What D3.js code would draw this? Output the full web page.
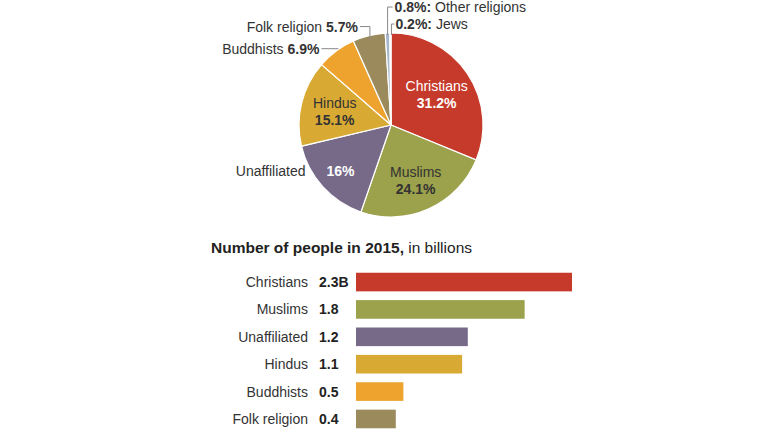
<!DOCTYPE html>
<html><head><meta charset="utf-8">
<script src="https://cdn.jsdelivr.net/npm/d3@7"></script>
<style>
html,body{margin:0;padding:0;background:#fff;}
svg{display:block;font-family:"Liberation Sans",Arial,sans-serif;}
</style></head>
<body><svg id="c" width="770" height="433"></svg>
<script>
// ---- data ----
const pieCategories = ["Christians","Muslims","Unaffiliated","Hindus","Buddhists","Folk religion","Other religions","Jews"];
const pieShares = [31.2, 24.1, 16, 15.1, 6.9, 5.7, 0.8, 0.2];
const pieLabels = ["31.2%","24.1%","16%","15.1%","6.9%","5.7%","0.8%","0.2%"];
const pieColors = ["#c63a2b","#9ca14b","#766a88","#d9aa33","#eea32f","#9b8b5c","#a8b8cc","#d3d9e2"];

const barCategories = ["Christians","Muslims","Unaffiliated","Hindus","Buddhists","Folk religion"];
const barValues = [2.28, 1.78, 1.18, 1.12, 0.5, 0.42];
const barLabels = ["2.3B","1.8","1.2","1.1","0.5","0.4"];
const barColors = ["#c63a2b","#9ca14b","#766a88","#d9aa33","#eea32f","#9b8b5c"];

const svg = d3.select("#c");
const textCol = "#333";
const fs = 14;

// ---- pie ----
const cx = 391, cy = 125, R = 92;
const pie = d3.pie().sort(null).value(d => d)(pieShares);
const arc = d3.arc().innerRadius(0).outerRadius(R);
const g = svg.append("g").attr("transform", `translate(${cx},${cy})`);
g.selectAll("path").data(pie).join("path")
  .attr("d", arc).attr("fill", (d,i) => pieColors[i])
  .attr("stroke", "#fff").attr("stroke-width", 1.2);

function at(d, r){ const a = (d.startAngle + d.endAngle)/2; return [Math.sin(a)*r, -Math.cos(a)*r]; }

// inside labels
const inside = [
  {i:0, r:55, col:"#fff", name:"Christians"},
  {i:1, r:60, col:"#333", name:"Muslims"},
  {i:3, r:58, col:"#333", name:"Hindus"}
];
inside.forEach(o => {
  const [x,y] = at(pie[o.i], o.r);
  const t = g.append("text").attr("text-anchor","middle").attr("fill",o.col).attr("font-size",fs);
  t.append("tspan").attr("x",x).attr("y",y-3).text(o.name);
  t.append("tspan").attr("x",x).attr("y",y+14).attr("font-weight","bold").text(pieLabels[o.i]);
});
// Unaffiliated
{
  const [x,y] = at(pie[2], 68);
  g.append("text").attr("x",x).attr("y",y+5).attr("text-anchor","middle").attr("fill","#fff")
    .attr("font-size",fs).attr("font-weight","bold").text(pieLabels[2]);
  g.append("text").attr("x",x-35).attr("y",y+5).attr("text-anchor","end").attr("fill",textCol)
    .attr("font-size",fs).text("Unaffiliated");
}
// outside labels with leaders
const lc = "#888";
{ // Buddhists
  const [x,y] = at(pie[4], R-2);
  const ly = y - 4;
  g.append("path").attr("d",`M${x-16},${ly}H${x+1}`).attr("stroke",lc).attr("fill","none");
  const t = g.append("text").attr("x",x-18).attr("y",ly+5).attr("text-anchor","end").attr("font-size",fs).attr("fill",textCol);
  t.append("tspan").text("Buddhists ");
  t.append("tspan").attr("font-weight","bold").text(pieLabels[4]);
}
{ // Folk religion
  const [x,y] = at(pie[5], R-4);
  const ly = y - 13;
  g.append("path").attr("d",`M${x-10},${ly}H${x}V${y}`).attr("stroke",lc).attr("fill","none");
  const t = g.append("text").attr("x",x-12).attr("y",ly+5).attr("text-anchor","end").attr("font-size",fs).attr("fill",textCol);
  t.append("tspan").text("Folk religion ");
  t.append("tspan").attr("font-weight","bold").text(pieLabels[5]);
}
{ // Other religions
  const [x,y] = at(pie[6], R-2);
  const ly = -118;
  g.append("path").attr("d",`M${x+5},${ly}H${x}V${y}`).attr("stroke",lc).attr("fill","none");
  const t = g.append("text").attr("x",x+7).attr("y",ly+5).attr("font-size",fs).attr("fill",textCol);
  t.append("tspan").attr("font-weight","bold").text(pieLabels[6] + ":");
  t.append("tspan").text(" Other religions");
}
{ // Jews
  const [x,y] = at(pie[7], R-2);
  const ly = -101;
  g.append("path").attr("d",`M${x+4},${ly}H${x+1}V${y}`).attr("stroke",lc).attr("fill","none");
  const t = g.append("text").attr("x",x+5).attr("y",ly+5).attr("font-size",fs).attr("fill",textCol);
  t.append("tspan").attr("font-weight","bold").text(pieLabels[7] + ":");
  t.append("tspan").text(" Jews");
}

// ---- bar chart ----
const title = svg.append("text").attr("x",211).attr("y",253).attr("font-size",15.5).attr("fill","#222");
title.append("tspan").attr("font-weight","bold").text("Number of people in 2015,");
title.append("tspan").text(" in billions");

const x = d3.scaleLinear().domain([0, 2.28]).range([356, 572]);
const y = d3.scaleBand().domain(barCategories).range([270, 431]).paddingInner(0.32).paddingOuter(0.1);

svg.selectAll("rect.bar").data(barValues).join("rect").attr("class","bar")
  .attr("x", x(0)).attr("y", (d,i) => y(barCategories[i]))
  .attr("width", d => x(d) - x(0)).attr("height", y.bandwidth())
  .attr("fill", (d,i) => barColors[i]);

svg.selectAll("text.cat").data(barCategories).join("text").attr("class","cat")
  .attr("x", 308).attr("y", d => y(d) + y.bandwidth()/2 + 5)
  .attr("text-anchor","end").attr("font-size",fs).attr("fill",textCol).text(d => d);

svg.selectAll("text.val").data(barLabels).join("text").attr("class","val")
  .attr("x", 319).attr("y", (d,i) => y(barCategories[i]) + y.bandwidth()/2 + 5)
  .attr("font-size",fs).attr("font-weight","bold").attr("fill","#222").text(d => d);
</script></body></html>
